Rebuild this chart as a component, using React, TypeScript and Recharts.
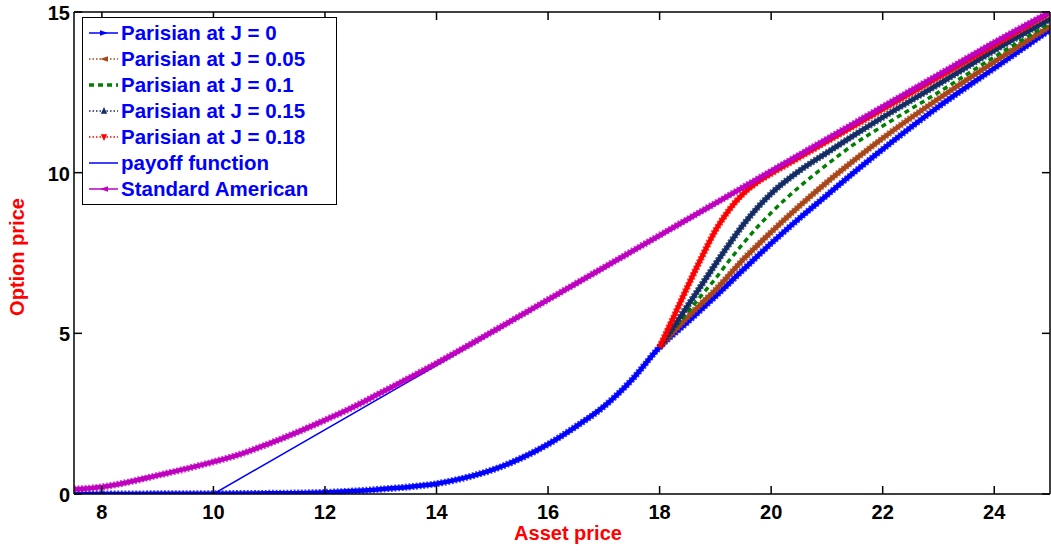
import React from 'react';
import { LineChart, Line, XAxis, YAxis, Legend } from 'recharts';

// asset prices (x) and option prices (y)
const assetJ0 = [7.5, 8, 9, 10, 11, 12, 12.5, 13, 13.5, 14, 14.5, 15, 15.5, 16, 16.5, 17, 17.5, 18, 18.5, 19, 19.5, 20, 20.5, 21, 21.5, 22, 23, 24, 25];
const priceJ0 = [0, 0, 0.005, 0.01, 0.02, 0.05, 0.09, 0.15, 0.22, 0.32, 0.5, 0.75, 1.1, 1.55, 2.1, 2.72, 3.55, 4.57, 5.35, 6.15, 6.98, 7.8, 8.57, 9.3, 10.03, 10.73, 12.05, 13.25, 14.45];

const assetBarrier = [18, 18.25, 18.5, 18.75, 19, 19.25, 19.5, 19.75, 20, 20.5, 21, 21.5, 22, 23, 24, 25];
const priceJ005 = [4.57, 5.05, 5.5, 5.93, 6.35, 6.82, 7.3, 7.73, 8.15, 8.95, 9.7, 10.4, 11.07, 12.3, 13.45, 14.55];
const priceJ01 = [4.57, 5.12, 5.65, 6.18, 6.7, 7.27, 7.8, 8.3, 8.75, 9.55, 10.25, 10.9, 11.45, 12.5, 13.6, 14.65];
const priceJ015 = [4.57, 5.2, 5.85, 6.5, 7.15, 7.78, 8.38, 8.9, 9.35, 10.05, 10.62, 11.18, 11.72, 12.75, 13.8, 14.78];
const priceJ018 = [4.57, 5.5, 6.45, 7.35, 8.2, 8.85, 9.35, 9.7, 9.97, 10.47, 10.97, 11.47, 11.97, 12.97, 13.97, 14.97];

const assetPayoff = [7.5, 10, 25];
const pricePayoff = [0, 0, 15];

const assetAmerican = [7.5, 8, 8.5, 9, 9.5, 10, 10.5, 11, 11.5, 12, 12.5, 13, 13.5, 14, 15, 16, 17, 18, 19, 20, 21, 22, 23, 24, 25];
const priceAmerican = [0.15, 0.22, 0.38, 0.58, 0.78, 1.0, 1.25, 1.57, 1.92, 2.3, 2.7, 3.15, 3.6, 4.07, 5.05, 6.05, 7.05, 8.05, 9.05, 10.05, 11.05, 12.05, 13.05, 14.05, 15.0];

const xTicks = [8, 10, 12, 14, 16, 18, 20, 22, 24];
const yTicks = [0, 5, 10, 15];

const toPoints = (xs: number[], ys: number[]) => xs.map((x, i) => ({ x, y: ys[i] }));

const FONT = '"Liberation Sans", Arial, Helvetica, sans-serif';

const legendItems = [
  { label: 'Parisian at J = 0', color: '#0000ff', dash: undefined, marker: 'right' },
  { label: 'Parisian at J = 0.05', color: '#a8461a', dash: '1.5 2', marker: 'left' },
  { label: 'Parisian at J = 0.1', color: '#008000', dash: '5 4', marker: 'none', width: 3.5 },
  { label: 'Parisian at J = 0.15', color: '#142c64', dash: '1.5 2', marker: 'up' },
  { label: 'Parisian at J = 0.18', color: '#ff0000', dash: '1.5 2', marker: 'down' },
  { label: 'payoff function', color: '#0000ff', dash: undefined, marker: 'none' },
  { label: 'Standard American', color: '#bf00bf', dash: undefined, marker: 'left' },
];

const markerPath = (kind: string, cx: number, cy: number) => {
  const s = 4;
  switch (kind) {
    case 'right': return `M${cx + s},${cy} L${cx - s},${cy - s * 0.7} L${cx - s},${cy + s * 0.7} Z`;
    case 'left': return `M${cx - s},${cy} L${cx + s},${cy - s * 0.7} L${cx + s},${cy + s * 0.7} Z`;
    case 'up': return `M${cx},${cy - s} L${cx - s * 0.8},${cy + s * 0.7} L${cx + s * 0.8},${cy + s * 0.7} Z`;
    case 'down': return `M${cx},${cy + s} L${cx - s * 0.8},${cy - s * 0.7} L${cx + s * 0.8},${cy - s * 0.7} Z`;
    default: return '';
  }
};

const LegendBox = () => (
  <div style={{ border: '1.5px solid #000', background: '#fff', padding: '2px 4px 2px 5px', width: 244 }}>
    {legendItems.map((it) => (
      <div key={it.label} style={{ display: 'flex', alignItems: 'center', height: 26 }}>
        <svg width={33} height={26} style={{ flex: 'none' }}>
          <line x1={1} y1={13} x2={30} y2={13} stroke={it.color} strokeWidth={it.width || 1.5} strokeDasharray={it.dash} />
          {it.marker !== 'none' && <path d={markerPath(it.marker, 16, 13)} fill={it.color} />}
        </svg>
        <span style={{ fontFamily: FONT, fontWeight: 'bold', fontSize: 20.5, color: '#0000ff', whiteSpace: 'nowrap' }}>{it.label}</span>
      </div>
    ))}
  </div>
);

const tickText = { fontFamily: FONT, fontWeight: 'bold', fontSize: 20, fill: '#000' } as const;

const BottomTick = (props: any) => {
  const { x, y, payload } = props;
  return (
    <g>
      <line x1={x} y1={y} x2={x} y2={y - 8} stroke="#000" strokeWidth={1.5} />
      <text x={x} y={y + 18} textAnchor="middle" dominantBaseline="central" {...tickText}>{payload.value}</text>
    </g>
  );
};

const TopTick = (props: any) => {
  const { x, y } = props;
  return <line x1={x} y1={y} x2={x} y2={y + 8} stroke="#000" strokeWidth={1.5} />;
};

const LeftTick = (props: any) => {
  const { x, y, payload } = props;
  return (
    <g>
      <line x1={x} y1={y} x2={x + 8} y2={y} stroke="#000" strokeWidth={1.5} />
      <text x={x - 4} y={y + 1} textAnchor="end" dominantBaseline="central" {...tickText}>{payload.value}</text>
    </g>
  );
};

const RightTick = (props: any) => {
  const { x, y } = props;
  return <line x1={x} y1={y} x2={x - 8} y2={y} stroke="#000" strokeWidth={1.5} />;
};

const axisLine = { stroke: '#000', strokeWidth: 1.5 };

// a solid core plus a dashed, wider halo gives the dense-marker "serrated" look
const bandSeries = [
  { key: 'j0', xs: assetJ0, ys: priceJ0, color: '#0000ff', name: 'Parisian at J = 0' },
  { key: 'j005', xs: assetBarrier, ys: priceJ005, color: '#a8461a', name: 'Parisian at J = 0.05' },
];

export default function App() {
  const band = (key: string, xs: number[], ys: number[], color: string, name: string) => [
    <Line key={key + 'h'} xAxisId="b" yAxisId="l" data={toPoints(xs, ys)} dataKey="y" name={name + ' markers'} legendType="none" type="monotone" stroke={color} strokeOpacity={0.75} strokeWidth={7} strokeDasharray="2 1.6" dot={false} isAnimationActive={false} />,
    <Line key={key} xAxisId="b" yAxisId="l" data={toPoints(xs, ys)} dataKey="y" name={name} type="monotone" stroke={color} strokeWidth={4.5} dot={false} isAnimationActive={false} />,
  ];

  return (
    <div style={{ position: 'absolute', left: 0, top: 0, background: '#fff' }}>
      <LineChart width={1051} height={552} margin={{ top: 11, right: 0, bottom: 0, left: 0 }}>
        <XAxis
          xAxisId="b"
          type="number"
          dataKey="x"
          domain={[7.5, 25]}
          ticks={xTicks}
          allowDataOverflow
          height={58}
          tickSize={0}
          tickMargin={0}
          tickLine={false}
          axisLine={axisLine}
          tick={<BottomTick />}
          label={{
            content: (p: any) => {
              const vb = p.viewBox;
              return (
                <text x={vb.x + vb.width / 2 + 6} y={vb.y + 39} textAnchor="middle" dominantBaseline="central"
                  fontFamily={FONT} fontWeight="bold" fontSize={20} fill="#ff0000">Asset price</text>
              );
            },
          }}
        />
        <XAxis
          xAxisId="t"
          orientation="top"
          type="number"
          dataKey="x"
          domain={[7.5, 25]}
          ticks={xTicks}
          allowDataOverflow
          height={1}
          tickSize={0}
          tickMargin={0}
          tickLine={false}
          axisLine={axisLine}
          tick={<TopTick />}
        />
        <YAxis
          yAxisId="l"
          type="number"
          domain={[0, 15]}
          ticks={yTicks}
          allowDataOverflow
          width={74}
          tickSize={0}
          tickMargin={0}
          tickLine={false}
          axisLine={axisLine}
          tick={<LeftTick />}
          label={{
            content: (p: any) => {
              const vb = p.viewBox;
              const cx = 17;
              const cy = vb.y + vb.height / 2 + 4;
              return (
                <text x={cx} y={cy} transform={`rotate(-90 ${cx} ${cy})`} textAnchor="middle" dominantBaseline="central"
                  fontFamily={FONT} fontWeight="bold" fontSize={20} fill="#ff0000">Option price</text>
              );
            },
          }}
        />
        <YAxis
          yAxisId="r"
          orientation="right"
          type="number"
          domain={[0, 15]}
          ticks={yTicks}
          allowDataOverflow
          width={1}
          tickSize={0}
          tickMargin={0}
          tickLine={false}
          axisLine={axisLine}
          tick={<RightTick />}
        />
        {bandSeries.map((s) => band(s.key, s.xs, s.ys, s.color, s.name))}
        <Line xAxisId="b" yAxisId="l" data={toPoints(assetBarrier, priceJ01)} dataKey="y" name="Parisian at J = 0.1" type="monotone" stroke="#008000" strokeWidth={3.5} strokeDasharray="5 4" dot={false} isAnimationActive={false} />
        {band('j015', assetBarrier, priceJ015, '#142c64', 'Parisian at J = 0.15')}
        {band('j018', assetBarrier, priceJ018, '#ff0000', 'Parisian at J = 0.18')}
        <Line xAxisId="b" yAxisId="l" data={toPoints(assetPayoff, pricePayoff)} dataKey="y" name="payoff function" type="linear" stroke="#0000ff" strokeWidth={1.5} dot={false} isAnimationActive={false} />
        {band('am', assetAmerican, priceAmerican, '#bf00bf', 'Standard American')}
        <Legend
          layout="vertical"
          align="center"
          verticalAlign="middle"
          wrapperStyle={{ left: 82, top: 17, width: 'auto', height: 'auto' }}
          content={<LegendBox />}
        />
      </LineChart>
    </div>
  );
}
